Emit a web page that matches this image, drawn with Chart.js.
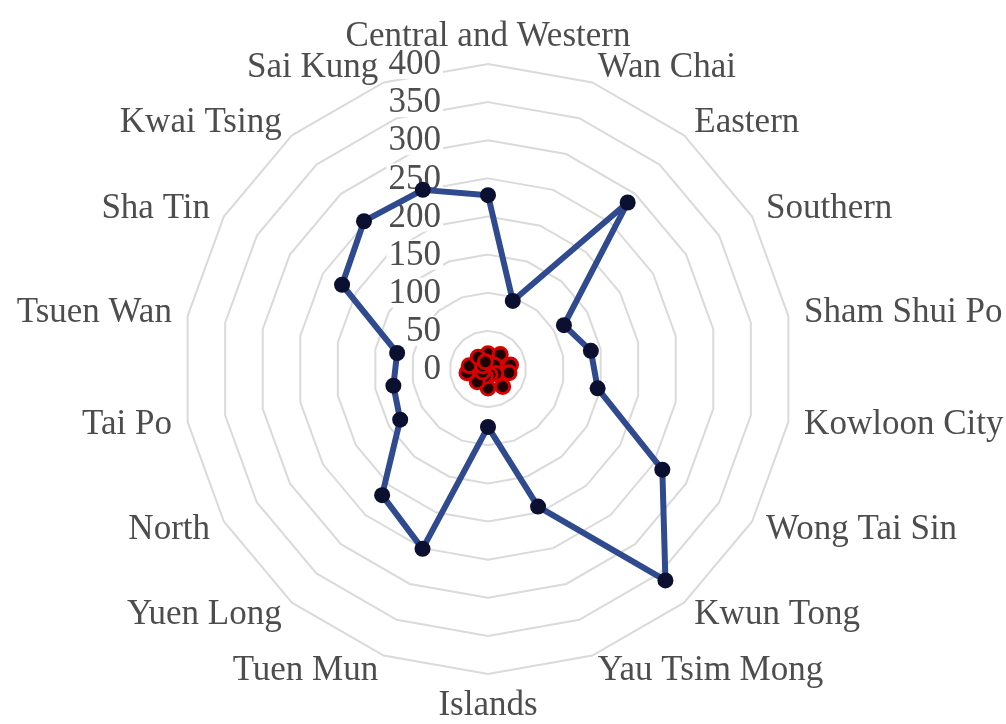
<!DOCTYPE html>
<html>
<head>
<meta charset="utf-8">
<script src="https://cdn.jsdelivr.net/npm/chart.js@4/dist/chart.umd.min.js"></script>
<style>
  html, body { margin: 0; padding: 0; background: #fff; }
  #wrap { width: 1006px; height: 724px; position: relative; }
</style>
</head>
<body>
<div id="wrap"><canvas id="radar"></canvas></div>
<script>
// ===== DATA =====
const districts = [
    'Central and Western', 'Wan Chai', 'Eastern', 'Southern', 'Sham Shui Po',
    'Kowloon City', 'Wong Tai Sin', 'Kwun Tong', 'Yau Tsim Mong', 'Islands',
    'Tuen Mun', 'Yuen Long', 'North', 'Tai Po', 'Tsuen Wan', 'Sha Tin',
    'Kwai Tsing', 'Sai Kung'
];
const blueValues = [228, 95, 285, 115, 137, 146, 264, 362, 192, 76, 251, 216, 133, 126, 121, 221, 253, 250];
const redValues = [20, 8, 25, 10, 30, 28, 12, 30, 8, 25, 10, 22, 8, 28, 25, 8, 20, 10];
const tickValues = [0, 50, 100, 150, 200, 250, 300, 350, 400];

const FONT = '35px "Liberation Serif", "Times New Roman", serif';
const TEXT_COLOR = '#4d4d4d';

// draw tick labels left of the vertical axis, with white backdrop
const tickLabelPlugin = {
    id: 'tickLabels',
    beforeDatasetsDraw(chart) {
        const scale = chart.scales.r;
        const ctx = chart.ctx;
        ctx.save();
        ctx.font = FONT;
        ctx.textAlign = 'right';
        ctx.textBaseline = 'middle';
        const xRight = scale.xCenter - 47;
        tickValues.forEach(v => {
            const y = scale.yCenter - scale.getDistanceFromCenterForValue(v);
            const label = String(v);
            const w = ctx.measureText(label).width;
            ctx.fillStyle = '#ffffff';
            ctx.fillRect(xRight - w - 2, y - 15, w + 4, 30);
            ctx.fillStyle = TEXT_COLOR;
            ctx.fillText(label, xRight, y + 1);
        });
        ctx.restore();
    }
};

// category labels around the outside
const pointLabelPlugin = {
    id: 'outerLabels',
    afterDatasetsDraw(chart) {
        const scale = chart.scales.r;
        const ctx = chart.ctx;
        ctx.save();
        ctx.font = FONT;
        ctx.fillStyle = TEXT_COLOR;
        const n = districts.length;
        districts.forEach((name, i) => {
            const deg = i * 360 / n;
            const pos = scale.getPointPosition(i, scale.drawingArea + 16);
            if (deg === 0) {
                ctx.textAlign = 'center';
                ctx.textBaseline = 'bottom';
                ctx.fillText(name, pos.x, pos.y + 6);
            } else if (deg === 180) {
                ctx.textAlign = 'center';
                ctx.textBaseline = 'top';
                ctx.fillText(name, pos.x, pos.y - 2);
            } else {
                ctx.textAlign = deg < 180 ? 'left' : 'right';
                ctx.textBaseline = 'middle';
                ctx.fillText(name, pos.x, pos.y);
            }
        });
        ctx.restore();
    }
};

const ctx = document.getElementById('radar').getContext('2d');
new Chart(ctx, {
    type: 'radar',
    data: {
        labels: districts,
        datasets: [{
            label: 'Series 1',
            data: blueValues,
            borderColor: '#2F4A8E',
            borderWidth: 6,
            borderJoinStyle: 'round',
            backgroundColor: 'transparent',
            fill: false,
            pointRadius: 8,
            pointBorderWidth: 0,
            pointBackgroundColor: '#0B1030',
            tension: 0
        }, {
            label: 'Series 2',
            data: redValues,
            borderColor: '#E00000',
            borderWidth: 4,
            borderJoinStyle: 'round',
            backgroundColor: 'transparent',
            fill: false,
            pointRadius: 7,
            pointBorderWidth: 3,
            pointBorderColor: '#D80000',
            pointBackgroundColor: '#200000',
            tension: 0
        }]
    },
    options: {
        responsive: true,
        maintainAspectRatio: false,
        animation: false,
        layout: {
            padding: { left: 138, right: 168, top: 64, bottom: 50 }
        },
        plugins: {
            legend: { display: false },
            tooltip: { enabled: false }
        },
        scales: {
            r: {
                min: 0,
                max: 400,
                ticks: { display: false, stepSize: 50 },
                pointLabels: { display: false },
                angleLines: { display: false },
                grid: { color: '#DADADA', lineWidth: 2 }
            }
        }
    },
    plugins: [tickLabelPlugin, pointLabelPlugin]
});
</script>
</body>
</html>
